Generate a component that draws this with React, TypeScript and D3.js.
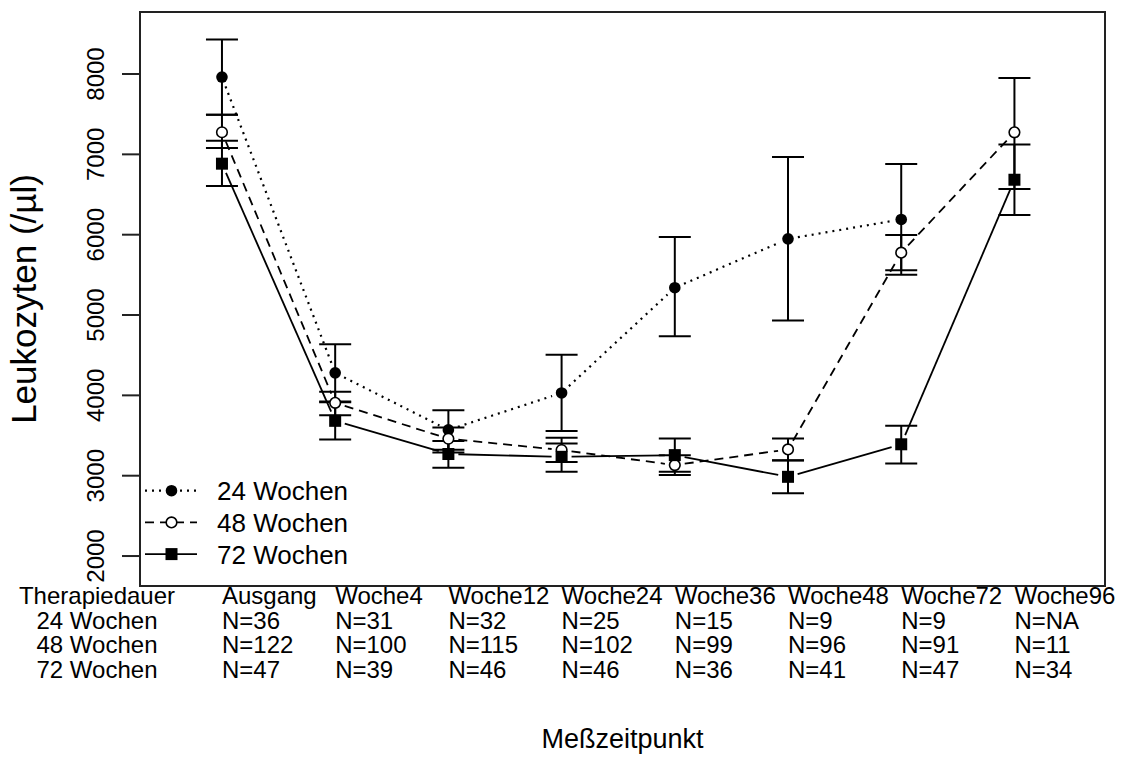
import React from 'react';
import * as d3 from 'd3';

// Messzeitpunkte
const timepoints = ['Ausgang', 'Woche4', 'Woche12', 'Woche24', 'Woche36', 'Woche48', 'Woche72', 'Woche96'];
const groups = ['24 Wochen', '48 Wochen', '72 Wochen'];

// Mittelwerte und Fehlerbalken
const mean24 = [7962, 4280, 3570, 4030, 5340, 5948, 6190, null];
const lo24 = [7494, 3923, 3324, 3555, 4736, 4931, 5500, null];
const hi24 = [8430, 4637, 3816, 4505, 5972, 6966, 6880, null];

const mean48 = [7275, 3907, 3460, 3320, 3132, 3327, 5776, 7274];
const lo48 = [7079, 3754, 3290, 3172, 3010, 3190, 5557, 6570];
const hi48 = [7494, 4044, 3600, 3471, 3255, 3464, 5995, 7949];

const mean72 = [6884, 3683, 3270, 3235, 3256, 2986, 3391, 6684];
const lo72 = [6606, 3451, 3098, 3048, 3048, 2780, 3152, 6246];
const hi72 = [7170, 3915, 3432, 3402, 3464, 3192, 3623, 7122];

// Fallzahlen
const n24 = ['36', '31', '32', '25', '15', '9', '9', 'NA'];
const n48 = ['122', '100', '115', '102', '99', '96', '91', '11'];
const n72 = ['47', '39', '46', '46', '36', '41', '47', '34'];

const yTicks = [2000, 3000, 4000, 5000, 6000, 7000, 8000];

const font = '"Liberation Sans", Arial, Helvetica, sans-serif';

const box = { left: 140, right: 1105, top: 12, bottom: 586 };

const App = () => {
  const x = d3.scaleLinear().domain([-0.724, 7.8]).range([box.left, box.right]);
  const y = d3.scaleLinear().domain([1627, 8772]).range([box.bottom, box.top]);

  const series = [
    { name: groups[0], mean: mean24, lo: lo24, hi: hi24, dash: '2,5', shape: 'dot' },
    { name: groups[1], mean: mean48, lo: lo48, hi: hi48, dash: '9,6', shape: 'open' },
    { name: groups[2], mean: mean72, lo: lo72, hi: hi72, dash: null, shape: 'square' },
  ];

  const gap = 10;
  const line = d3.line<[number, number]>();

  // Linien mit Lücke um die Punkte (wie type = "b")
  const segments = (s) => {
    const out = [];
    for (let i = 0; i < s.mean.length - 1; i++) {
      if (s.mean[i] == null || s.mean[i + 1] == null) continue;
      const x0 = x(i), y0 = y(s.mean[i]);
      const x1 = x(i + 1), y1 = y(s.mean[i + 1]);
      const len = Math.hypot(x1 - x0, y1 - y0);
      if (len < 2 * gap) continue;
      const ux = (x1 - x0) / len, uy = (y1 - y0) / len;
      out.push(line([[x0 + ux * gap, y0 + uy * gap], [x1 - ux * gap, y1 - uy * gap]]));
    }
    return out;
  };

  const marker = (shape, cx, cy, key) => {
    if (shape === 'dot') return <circle key={key} cx={cx} cy={cy} r={5.8} fill="#000" />;
    if (shape === 'open')
      return <circle key={key} cx={cx} cy={cy} r={5.3} fill="#fff" stroke="#000" strokeWidth={1.6} />;
    return <rect key={key} x={cx - 6} y={cy - 6} width={12} height={12} fill="#000" />;
  };

  const capW = 16;
  const rows = [n24, n48, n72];
  const rowY = [628.5, 653, 677.5];

  return (
    <svg
      width={1130}
      height={763}
      style={{ position: 'absolute', left: 0, top: 0, background: '#fff' }}
      fontFamily={font}
    >
      <rect x={0} y={0} width={1130} height={763} fill="#fff" />

      {/* Linien */}
      {series.map((s, si) =>
        segments(s).map((d, i) => (
          <path
            key={`l${si}-${i}`}
            d={d}
            fill="none"
            stroke="#000"
            strokeWidth={s.dash === '2,5' ? 2.2 : 1.8}
            strokeDasharray={s.dash || undefined}
          />
        ))
      )}

      {/* Fehlerbalken */}
      {series.map((s, si) =>
        s.mean.map((m, i) => {
          if (m == null) return null;
          const cx = x(i);
          return (
            <g key={`e${si}-${i}`} stroke="#000" strokeWidth={2}>
              <line x1={cx} x2={cx} y1={y(s.lo[i])} y2={y(s.hi[i])} />
              <line x1={cx - capW} x2={cx + capW} y1={y(s.lo[i])} y2={y(s.lo[i])} />
              <line x1={cx - capW} x2={cx + capW} y1={y(s.hi[i])} y2={y(s.hi[i])} />
            </g>
          );
        })
      )}

      {/* Punkte */}
      {series.map((s, si) =>
        s.mean.map((m, i) => (m == null ? null : marker(s.shape, x(i), y(m), `p${si}-${i}`)))
      )}

      {/* Rahmen */}
      <rect
        x={box.left}
        y={box.top}
        width={box.right - box.left}
        height={box.bottom - box.top}
        fill="none"
        stroke="#222"
        strokeWidth={2}
      />

      {/* y-Achse */}
      {yTicks.map((t) => (
        <g key={`t${t}`}>
          <line x1={box.left - 18} x2={box.left} y1={y(t)} y2={y(t)} stroke="#222" strokeWidth={2} />
          <text
            transform={`translate(104,${y(t)}) rotate(-90)`}
            textAnchor="middle"
            fontSize={24}
            fill="#000"
          >
            {t}
          </text>
        </g>
      ))}
      <text
        transform={`translate(36,${(box.top + box.bottom) / 2}) rotate(-90)`}
        textAnchor="middle"
        fontSize={35}
        fill="#000"
      >
        Leukozyten (/µl)
      </text>

      {/* Legende */}
      {series.map((s, si) => {
        const ly = 490.7 + si * 31.7;
        return (
          <g key={`lg${si}`}>
            <line
              x1={145}
              x2={197}
              y1={ly}
              y2={ly}
              stroke="#000"
              strokeWidth={s.dash === '2,5' ? 2.2 : 1.8}
              strokeDasharray={s.dash || undefined}
            />
            {marker(s.shape, 171.5, ly, `lm${si}`)}
            <text x={217} y={ly + 9.5} fontSize={26} fill="#000">
              {s.name}
            </text>
          </g>
        );
      })}

      {/* Tabelle unter der Grafik */}
      <text x={97} y={604} textAnchor="middle" fontSize={24} fill="#000">
        Therapiedauer
      </text>
      {timepoints.map((tp, i) => (
        <text key={`h${i}`} x={x(i)} y={604} fontSize={24} fill="#000">
          {tp}
        </text>
      ))}
      {rows.map((r, ri) => (
        <g key={`r${ri}`}>
          <text x={97} y={rowY[ri]} textAnchor="middle" fontSize={24} fill="#000">
            {groups[ri]}
          </text>
          {r.map((v, i) => (
            <text key={`n${ri}-${i}`} x={x(i)} y={rowY[ri]} fontSize={24} fill="#000">
              {`N=${v}`}
            </text>
          ))}
        </g>
      ))}

      <text x={(box.left + box.right) / 2} y={748} textAnchor="middle" fontSize={27} fill="#000">
        Meßzeitpunkt
      </text>
    </svg>
  );
};

export default App;
